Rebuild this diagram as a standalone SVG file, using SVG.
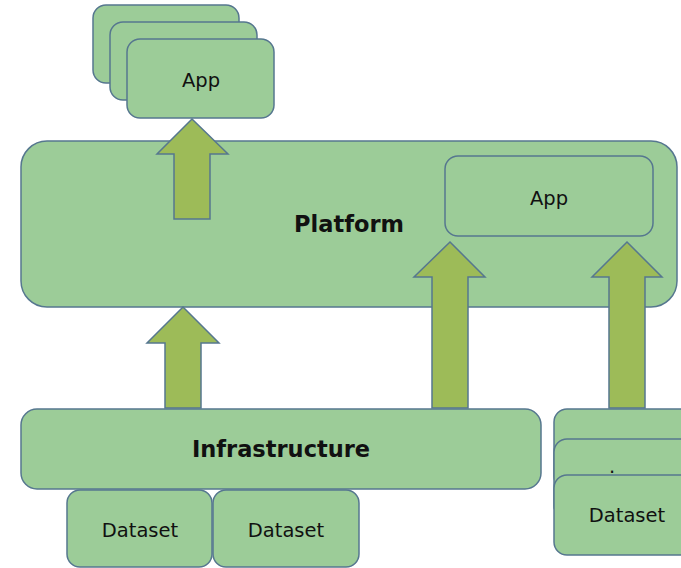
<svg xmlns="http://www.w3.org/2000/svg" width="681" height="568" viewBox="0 0 681 568">
<style>
.box{fill:#9ccc98;stroke:#56778f;stroke-width:1.5}
.arr{fill:#9dbb58;stroke:#56778f;stroke-width:1.5;stroke-linejoin:miter}
.t{font-family:"DejaVu Sans",sans-serif;fill:#111;text-anchor:middle;dominant-baseline:central}
.b{font-weight:bold;font-size:22.5px}
.r{font-size:19.5px}
</style>
<rect width="681" height="568" fill="#fff"/>
<g id="app-stack">
<rect class="box" x="93" y="5" width="146" height="78" rx="13"/>
<rect class="box" x="110" y="22" width="147" height="78" rx="13"/>
<rect class="box" x="127" y="39" width="147" height="79" rx="13"/>
<text class="t r" x="201" y="80">App</text>
</g>
<g id="platform">
<rect class="box" x="21" y="141" width="656" height="166" rx="26"/>
<text class="t b" x="349" y="224">Platform</text>
</g>
<g id="platform-app">
<rect class="box" x="445" y="156" width="208" height="80" rx="13"/>
<text class="t r" x="549" y="198">App</text>
</g>
<g id="infrastructure">
<rect class="box" x="21" y="409" width="520" height="80" rx="16"/>
<text class="t b" x="281" y="449">Infrastructure</text>
</g>
<g id="dataset-1">
<rect class="box" x="67" y="490" width="145" height="77" rx="13"/>
<text class="t r" x="140" y="530">Dataset</text>
</g>
<g id="dataset-2">
<rect class="box" x="213" y="490" width="146" height="77" rx="13"/>
<text class="t r" x="286" y="530">Dataset</text>
</g>
<g id="dataset-stack">
<rect class="box" x="554" y="409" width="160" height="80" rx="13"/>
<rect class="box" x="554" y="439" width="160" height="80" rx="13"/>
<text class="t r" x="612" y="466">.</text>
<rect class="box" x="554" y="475" width="160" height="80" rx="13"/>
<text class="t r" x="627" y="515">Dataset</text>
</g>
<g id="connectors">
<path class="arr" d="M192,119 L228,154 L210,154 L210,219 L174,219 L174,154 L157,154 Z"/>
<path class="arr" d="M183,307 L219,343 L201,343 L201,408 L165,408 L165,343 L147,343 Z"/>
<path class="arr" d="M450,242 L485,277 L468,277 L468,408 L432,408 L432,277 L414,277 Z"/>
<path class="arr" d="M627,242 L662,277 L645,277 L645,408 L609,408 L609,277 L592,277 Z"/>
</g>
</svg>
